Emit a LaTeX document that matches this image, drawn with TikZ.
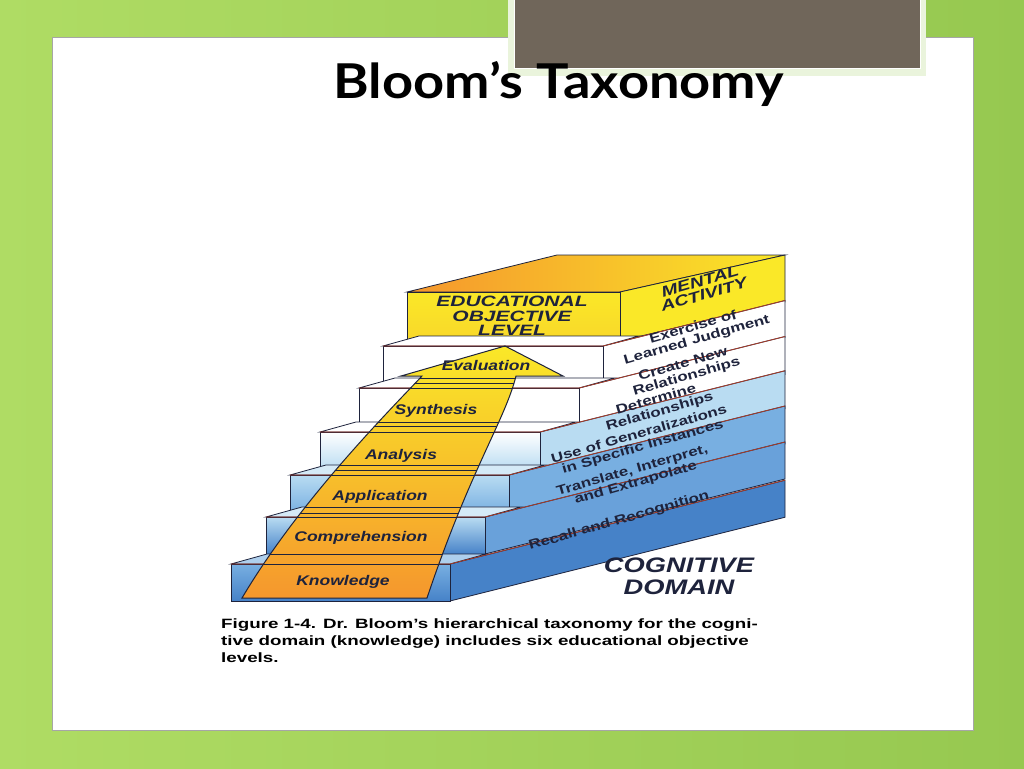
\documentclass[tikz,border=0pt]{standalone}
\usepackage{fontspec}
\setmainfont{Liberation Sans}
\newfontfamily\titlefont{Lato}
\usetikzlibrary{positioning}
\definecolor{slidegreen}{RGB}{150,200,80}
\definecolor{slidegreenlight}{RGB}{175,220,100}
\definecolor{topgray}{RGB}{112,102,90}
\definecolor{navy}{RGB}{30,35,60}
\definecolor{edgered}{RGB}{170,60,40}
\definecolor{bluedark}{RGB}{70,130,200}
\definecolor{bluemid}{RGB}{120,175,225}
\definecolor{bluelight}{RGB}{185,220,242}
\definecolor{arrowyellow}{RGB}{250,232,40}
\definecolor{arroworange}{RGB}{245,150,45}
\newcommand{\wide}[2][1.25]{\scalebox{#1}[1]{#2}}
\tikzset{
  face/.style={draw=navy, line width=0.8pt},
  steplabel/.style={font=\fontsize{14}{14}\selectfont\bfseries\itshape, text=navy},
  sidelabel/.style={font=\fontsize{13}{13}\selectfont\bfseries, text=navy, align=center, rotate=16, inner sep=0pt},
}
\begin{document}
\begin{tikzpicture}[x=1pt,y=-1pt]
\pgfmathsetmacro{\BackX}{785}
\pgfmathsetmacro{\Slope}{0.25}
% background slide
\useasboundingbox (0,0) rectangle (1024,768);
\shade[left color=slidegreenlight, right color=slidegreen] (0,0) rectangle (1024,768);
\fill[white, draw=gray!70] (52,37) rectangle (973,730);
\fill[white!80!slidegreen] (508,0) rectangle (926,76);
\fill[topgray, draw=white, line width=1pt] (514,0) rectangle (920,68);
\node[font=\titlefont\fontsize{48}{48}\selectfont\bfseries, anchor=base west, inner sep=0pt] (title) at (333,98) {\wide[1.13]{Bloom’s Taxonomy}};
% top box
\shade[face, left color=arroworange, right color=arrowyellow] (407,292) -- (620,292) -- (785,255) -- (557,255) -- cycle;
\fill[arrowyellow, draw=navy, line width=0.8pt] (620,292) -- (620,341) -- (785,302) -- (785,255) -- cycle;
\shade[face, top color=arrowyellow, bottom color=arrowyellow!80!arroworange] (407,292) rectangle (620,341);
% steps, from the top down
\foreach \L/\R/\T/\B/\Ctop/\Cbot/\Cside in {
    383/603/346/383/white/white/white,
    359/579/388/426/white/white/white,
    320/540/432/470/white/bluelight/bluelight,
    290/509/475/513/bluelight/bluemid/bluemid,
    266/485/517/554/bluelight/bluedark/bluemid!70!bluedark,
    231/450/564/601/bluemid/bluedark/bluedark}{
  \pgfmathsetmacro{\Drop}{\Slope*(\BackX-\R)}
  \fill[\Cside, draw=navy, line width=0.8pt] (\R,\T) -- (\R,\B) -- (\BackX,\B-\Drop) -- (\BackX,\T-\Drop) -- cycle;
  \fill[\Ctop!60!white, draw=navy, line width=0.8pt] (\L,\T) -- (\R,\T) -- (\R+36,\T-10) -- (\L+36,\T-10) -- cycle;
  \shade[face, top color=\Ctop, bottom color=\Cbot] (\L,\T) rectangle (\R,\B);
  \draw[edgered, line width=0.8pt] (\L,\T) -- (\R,\T) -- (\BackX,\T-\Drop);
}
% the climbing arrow
\begin{scope}
  \path[clip] (242,598) .. controls (300,500) and (390,410) .. (422,376) -- (401,376) -- (505,346)
     -- (563,376) -- (516,376) .. controls (505,420) and (470,470) .. (427,598) -- cycle;
  \shade[top color=arrowyellow, middle color=arrowyellow, bottom color=arroworange] (230,346) rectangle (570,601);
  \foreach \L/\T/\B in {383/346/383, 359/388/426, 320/432/470, 290/475/513, 266/517/554, 231/564/601}{
    \draw[navy, line width=0.8pt] (200,\T) -- (600,\T) (200,\B) -- (600,\B) (200,\T-10) -- (600,\T-10);
  }
\end{scope}
\draw[navy, line width=1pt] (242,598) .. controls (300,500) and (390,410) .. (422,376) -- (401,376) -- (505,346)
     -- (563,376) -- (516,376) .. controls (505,420) and (470,470) .. (427,598) -- cycle;
% step labels
\node[steplabel] (knowledge) at (343,582) {\wide{Knowledge}};
\node[steplabel] (comprehension) at (361,538) {\wide{Comprehension}};
\node[steplabel] (application) at (380,497) {\wide{Application}};
\node[steplabel] (analysis) at (401,456) {\wide{Analysis}};
\node[steplabel] (synthesis) at (436,411) {\wide{Synthesis}};
\node[steplabel] (evaluation) at (486,365) {\wide{Evaluation}};
\node[steplabel, align=center, font=\fontsize{15}{14.5}\selectfont\bfseries\itshape] (objective) at (512,316)
  {\wide[1.4]{EDUCATIONAL}\\\wide[1.4]{OBJECTIVE}\\\wide[1.4]{LEVEL}};
% mental activity side
\node[sidelabel, font=\fontsize{15}{14}\selectfont\bfseries\itshape] (mental) at (702,288) {\wide[1.3]{MENTAL}\\\wide[1.3]{ACTIVITY}};
\node[sidelabel] (judgment) at (695,334) {\wide[1.3]{Exercise of}\\\wide[1.3]{Learned Judgment}};
\node[sidelabel] (create) at (685,371) {\wide[1.3]{Create New}\\\wide[1.3]{Relationships}};
\node[sidelabel] (determine) at (658,406) {\wide[1.3]{Determine}\\\wide[1.3]{Relationships}};
\node[sidelabel] (generalize) at (641,441) {\wide[1.3]{Use of Generalizations}\\\wide[1.3]{in Specific Instances}};
\node[sidelabel] (translate) at (634,477) {\wide[1.3]{Translate, Interpret,}\\\wide[1.3]{and Extrapolate}};
\node[sidelabel] (recall) at (619,521) {\wide[1.3]{Recall and Recognition}};
\node[font=\fontsize{21}{22}\selectfont\bfseries\itshape, align=center, text=navy] (domain) at (679,576)
  {\wide[1.3]{COGNITIVE}\\\wide[1.3]{DOMAIN}};
% caption
\node[font=\fontsize{13.5}{17}\selectfont\bfseries, align=left, anchor=north west, inner sep=0pt] (caption) at (221,619)
  {\wide[1.39]{Figure 1-4. Dr. Bloom's hierarchical taxonomy for the cogni-}\\\wide[1.39]{tive domain (knowledge) includes six educational objective}\\\wide[1.39]{levels.}};
\end{tikzpicture}
\end{document}
